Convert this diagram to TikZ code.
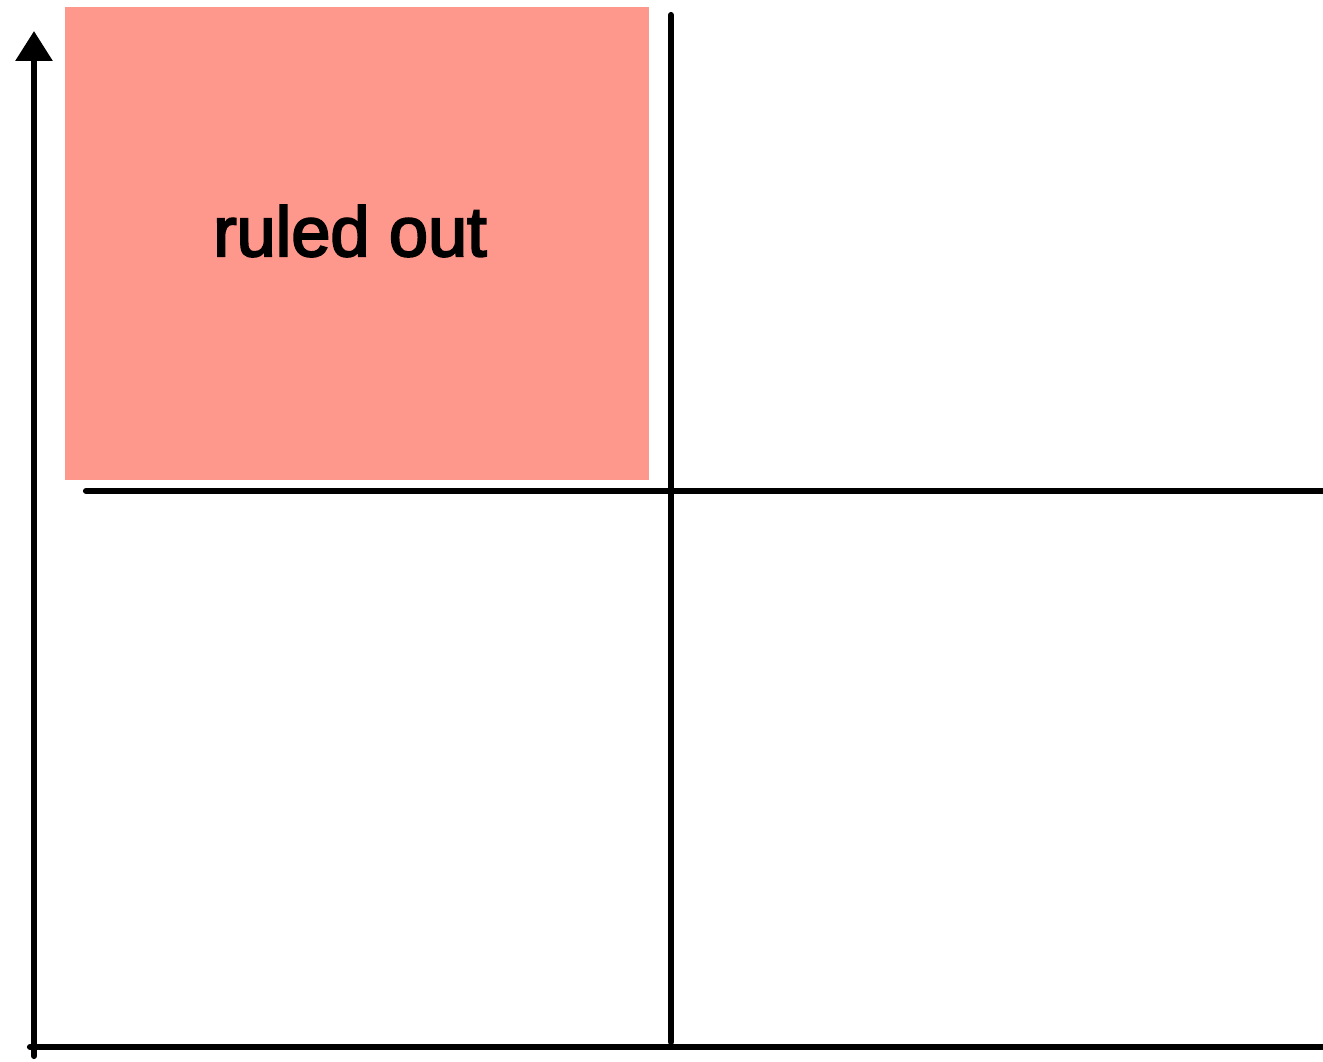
\documentclass[tikz,border=0pt]{standalone}
\usepackage{fontspec}
\setmainfont{Liberation Sans}
\newfontfamily\labelfont[FakeBold=3]{Liberation Sans}
\usetikzlibrary{arrows.meta}
\definecolor{ruledred}{RGB}{255,152,140}

\begin{document}
\begin{tikzpicture}[
  x=0.02cm, y=-0.02cm,
  axis/.style={line width=3.5pt, line cap=round},
  axisarrow/.style={axis, -{Triangle[length=0.6cm, width=0.72cm]}},
  region/.style={fill=ruledred},
  label/.style={font=\labelfont\fontsize{40}{48}\selectfont, text=black},
]
\useasboundingbox (0,0) rectangle (1323,1062);

% Ruled-out region
\fill[region] (65,7) rectangle (649,480);
\node[label] (ruled) at (350,231) {ruled out};

% Axes
\coordinate (origin) at (34,1056);
\coordinate (ytop) at (34,31);
\coordinate (xleft) at (30,1047);
\coordinate (xright) at (1323,1047);
\draw[axisarrow] (origin) -- (ytop);
\draw[axis] (xleft) -- (xright);

% Dividers
\coordinate (hleft) at (86,491);
\coordinate (hright) at (1323,491);
\coordinate (vtop) at (671,15);
\coordinate (vbottom) at (671,1042);
\draw[axis] (hleft) -- (hright);
\draw[axis] (vtop) -- (vbottom);

\end{tikzpicture}
\end{document}
